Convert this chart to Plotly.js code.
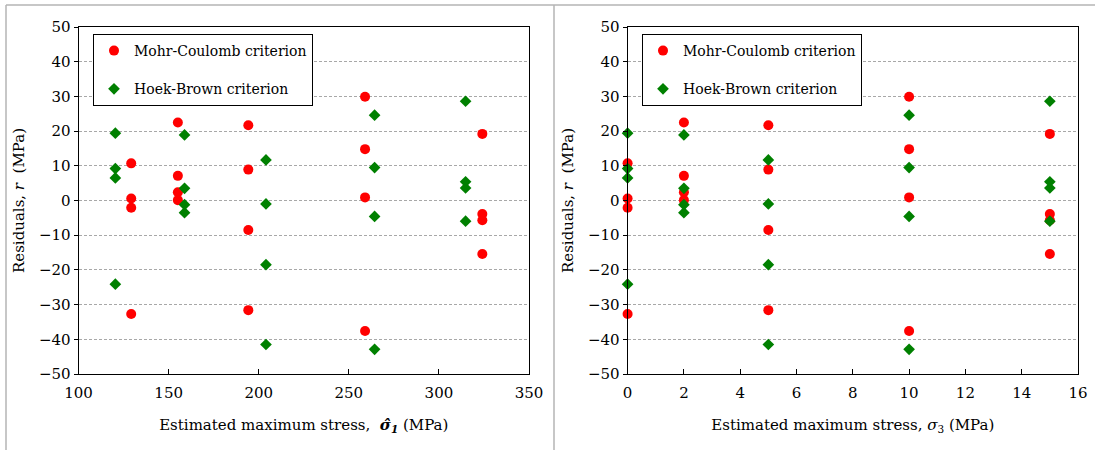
<!DOCTYPE html>
<html>
<head>
<meta charset="utf-8">
<script src="https://cdn.plot.ly/plotly-3.0.1.min.js"></script>
<style>html,body{margin:0;padding:0;background:#fff;}#chart{width:1095px;height:450px;}</style>
</head>
<body>
<div id="chart"></div>
<script>
// Left panel: estimated maximum stress sigma1-hat (MPa)
const mcSigma1 = [129.2,129.2,129.2,129.2, 155.1,155.1,155.1,155.1, 194.2,194.2,194.2,194.2, 259,259,259,259, 324.1,324.1,324.1,324.1];
const hbSigma1 = [120.4,120.4,120.4,120.4, 158.8,158.8,158.8,158.8, 204,204,204,204, 264.3,264.3,264.3,264.3, 314.8,314.8,314.8,314.8];
// Right panel: confining stress sigma3 (MPa)
const sigma3 = [0,0,0,0, 2,2,2,2, 5,5,5,5, 10,10,10,10, 15,15,15,15];
// Residuals r (MPa)
const mcResiduals = [10.7,0.6,-2.1,-32.7, 22.5,7.1,2.4,0.1, 21.7,8.9,-8.5,-31.6, 29.9,14.8,0.9,-37.6, 19.2,-3.9,-5.7,-15.4];
const hbResiduals = [19.4,9.2,6.5,-24.1, 18.9,3.5,-1.2,-3.5, 11.7,-1.0,-18.5,-41.5, 24.6,9.5,-4.6,-42.9, 28.6,5.4,3.6,-5.95];
const seriesNames = ["Mohr-Coulomb criterion", "Hoek-Brown criterion"];
const xTicks1 = [100,150,200,250,300,350];
const xTicks2 = [0,2,4,6,8,10,12,14,16];
const yTicks = [-50,-40,-30,-20,-10,0,10,20,30,40,50];

const RED = "#ff0000", GREEN = "#008000";
const FONT = "DejaVu Serif";

const mcMarker = {symbol: "circle", size: 10, color: RED};
const hbMarker = {symbol: "diamond", size: 9, color: GREEN};

const traces = [
  {x: mcSigma1, y: mcResiduals, name: seriesNames[0], type: "scatter", mode: "markers", marker: mcMarker, cliponaxis: false, xaxis: "x", yaxis: "y", legend: "legend", legendgroup: "a"},
  {x: hbSigma1, y: hbResiduals, name: seriesNames[1], type: "scatter", mode: "markers", marker: hbMarker, cliponaxis: false, xaxis: "x", yaxis: "y", legend: "legend", legendgroup: "b"},
  {x: sigma3, y: mcResiduals, name: seriesNames[0], type: "scatter", mode: "markers", marker: mcMarker, cliponaxis: false, xaxis: "x2", yaxis: "y2", legend: "legend2", legendgroup: "c"},
  {x: sigma3, y: hbResiduals, name: seriesNames[1], type: "scatter", mode: "markers", marker: hbMarker, cliponaxis: false, xaxis: "x2", yaxis: "y2", legend: "legend2", legendgroup: "d"}
];

function xAxis(domain, range, ticks, title, anchor) {
  return {
    domain: domain, range: range, tickvals: ticks, anchor: anchor,
    showgrid: false, zeroline: false,
    showline: true, mirror: true, linecolor: "#000", linewidth: 1,
    ticks: "inside", ticklen: 5, tickcolor: "#000",
    ticklabelstandoff: 5,
    tickfont: {family: FONT, size: 15, color: "#000"},
    title: {text: title, font: {family: FONT, size: 15, color: "#000"}, standoff: 18}
  };
}
function yAxis(anchor) {
  return {
    range: [-50, 50], tickvals: yTicks, anchor: anchor, domain: [0, 1],
    showgrid: true, gridcolor: "#a8a8a8", gridwidth: 1, griddash: "3px,2px",
    zeroline: false,
    showline: true, mirror: true, linecolor: "#000", linewidth: 1,
    ticks: "outside", ticklen: 4, tickcolor: "#000",
    tickfont: {family: FONT, size: 15, color: "#000"},
    title: {text: "Residuals, <i>r</i>  (MPa)", font: {family: FONT, size: 15, color: "#000"}, standoff: 10}
  };
}

const H = 450, T = 27, B = 76, PH = H - T - B;
const py = p => (H - B - p) / PH;
const px = p => p / 1095;

const legendCommon = {
  bgcolor: "#fff", bordercolor: "#000", borderwidth: 1,
  font: {family: FONT, size: 14, color: "#000"},
  xanchor: "left", yanchor: "top", tracegroupgap: 17, itemwidth: 30
};

const frameLine = {type: "line", xref: "paper", yref: "paper", line: {color: "#b4b4b4", width: 1.5}};

const layout = {
  width: 1095, height: 450,
  margin: {l: 0, r: 0, t: T, b: B},
  paper_bgcolor: "#fff", plot_bgcolor: "#fff",
  font: {family: FONT, color: "#000"},
  showlegend: true,
  xaxis: xAxis([78.6/1095, 529/1095], [100, 350], xTicks1, "Estimated maximum stress,  <b><i>σ̂</i></b><sub><b><i>1</i></b></sub> (MPa)", "y"),
  yaxis: yAxis("x"),
  xaxis2: xAxis([627.6/1095, 1078/1095], [0, 16], xTicks2, "Estimated maximum stress, <i>σ</i><sub>3</sub> (MPa)", "y2"),
  yaxis2: yAxis("x2"),
  legend: Object.assign({x: px(93), y: py(34)}, legendCommon),
  legend2: Object.assign({x: px(642), y: py(34)}, legendCommon),
  shapes: [
    Object.assign({x0: px(6), x1: 1, y0: py(5), y1: py(5)}, frameLine),
    Object.assign({x0: px(6), x1: px(6), y0: py(5), y1: py(450)}, frameLine),
    Object.assign({x0: px(554), x1: px(554), y0: py(5), y1: py(450)}, frameLine)
  ]
};

Plotly.newPlot("chart", traces, layout, {displayModeBar: false, staticPlot: true});
</script>
</body>
</html>
